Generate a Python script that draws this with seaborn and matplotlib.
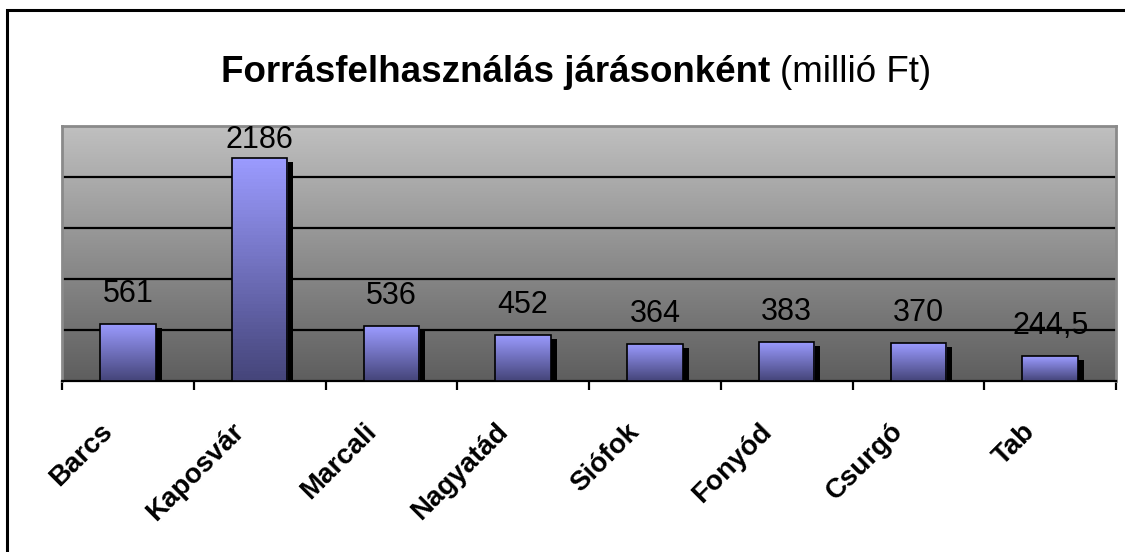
import numpy as np
import pandas as pd
import matplotlib
matplotlib.use("Agg")
import matplotlib.pyplot as plt
import seaborn as sns
from matplotlib.colors import LinearSegmentedColormap
from matplotlib.patches import Rectangle
from matplotlib.transforms import ScaledTranslation

# Data
jarasok = ["Barcs", "Kaposvár", "Marcali", "Nagyatád", "Siófok", "Fonyód", "Csurgó", "Tab"]
ertekek = [561, 2186, 536, 452, 364, 383, 370, 244.5]
cimkek = ["561", "2186", "536", "452", "364", "383", "370", "244,5"]

df = pd.DataFrame({"jaras": jarasok, "ertek": ertekek})

sns.set_theme(style="white")
plt.rcParams["font.family"] = ["Liberation Sans", "DejaVu Sans"]
plt.rcParams["text.color"] = "black"
plt.rcParams["xtick.color"] = "black"
plt.rcParams["xtick.labelcolor"] = "black"

fig = plt.figure(figsize=(11.25, 5.52), dpi=100)
W, H = 1125, 552
ax = fig.add_axes([62 / W, 1 - 381 / H, (1116 - 62) / W, (381 - 126) / H])

YMAX = 2500

# plot area background gradient
bg_cmap = LinearSegmentedColormap.from_list("bg", ["#c0c0c0", "#5e5e5e"])
ax.imshow(np.linspace(0, 1, 256).reshape(-1, 1), cmap=bg_cmap, aspect="auto",
          extent=[-0.5, len(jarasok) - 0.5, 0, YMAX], origin="upper", zorder=0)

sns.barplot(data=df, x="jaras", y="ertek", order=jarasok, color="#9999ff",
            width=0.42, edgecolor="black", linewidth=1.2, ax=ax, zorder=3)

# gradient bars + shadow
bar_cmap = LinearSegmentedColormap.from_list("bar", ["#9b9bff", "#45457a"])
dx = 6 / (1054 / len(jarasok))
dy = 4 * YMAX / 255
for p in ax.patches:
    x, w, h = p.get_x(), p.get_width(), p.get_height()
    ax.add_patch(Rectangle((x + dx, 0), w, h - dy, facecolor="black",
                           edgecolor="none", zorder=2))
    im = ax.imshow(np.linspace(0, 1, 64).reshape(-1, 1), cmap=bar_cmap,
                   aspect="auto", extent=[x, x + w, 0, h], origin="upper", zorder=3)
    im.set_clip_path(p)
    p.set_facecolor("none")
    p.set_zorder(4)

ax.set_xlim(-0.5, len(jarasok) - 0.5)
ax.set_ylim(0, YMAX)

# gridlines
ax.set_yticks([500, 1000, 1500, 2000])
ax.set_yticklabels([])
ax.yaxis.grid(True, color="black", linewidth=1.6)
ax.set_axisbelow(True)
ax.tick_params(axis="y", length=0)
for gl in ax.get_ygridlines():
    gl.set_zorder(1)

for s in ["top", "left", "right"]:
    ax.spines[s].set_color("#8a8a8a")
    ax.spines[s].set_linewidth(2)
ax.spines["bottom"].set_color("black")
ax.spines["bottom"].set_linewidth(1.6)

# ticks at category boundaries
ax.set_xticks(np.arange(-0.5, len(jarasok), 1), minor=True)
ax.tick_params(axis="x", which="minor", length=6.5, width=1.6, color="black", direction="out", bottom=True)
ax.tick_params(axis="x", which="major", length=0, pad=27)
ax.set_xticklabels(jarasok, rotation=45, ha="right", fontsize=20, fontweight="bold", color="black")
for lab in ax.get_xticklabels():
    lab.set_transform(lab.get_transform() + ScaledTranslation(-10 / 100, 0, fig.dpi_scale_trans))
ax.set_xlabel("")
ax.set_ylabel("")

# value labels
px_per_unit = 255 / YMAX
for i, (v, t) in enumerate(zip(ertekek, cimkek)):
    headroom = (YMAX - v) * px_per_unit
    pad_px = min(15, headroom - 29)
    ax.annotate(t, xy=(i, v), xytext=(0, pad_px * 0.72), textcoords="offset points",
                ha="center", va="bottom", fontsize=22, color="black", zorder=5)

# title (bold + regular part)
renderer = fig.canvas.get_renderer()
t1 = fig.text(0, 1 - 82 / H, "Forrásfelhasználás járásonként ", fontsize=26.5,
              fontweight="bold", ha="left", va="baseline", color="black")
t2 = fig.text(0, 1 - 82 / H, "(millió Ft)", fontsize=26.5, ha="left", va="baseline",
              color="black")
w1 = t1.get_window_extent(renderer).width
w2 = t2.get_window_extent(renderer).width
x0 = 576 - (w1 + w2) / 2
t1.set_x(x0 / W)
t2.set_x((x0 + w1) / W)

# chart frame
fig.patches.append(Rectangle((7 / W, -0.2), 1.3, 1.2 - 10 / H, transform=fig.transFigure,
                             facecolor="none", edgecolor="black", linewidth=2.2))

fig.savefig("out.png", dpi=100)
